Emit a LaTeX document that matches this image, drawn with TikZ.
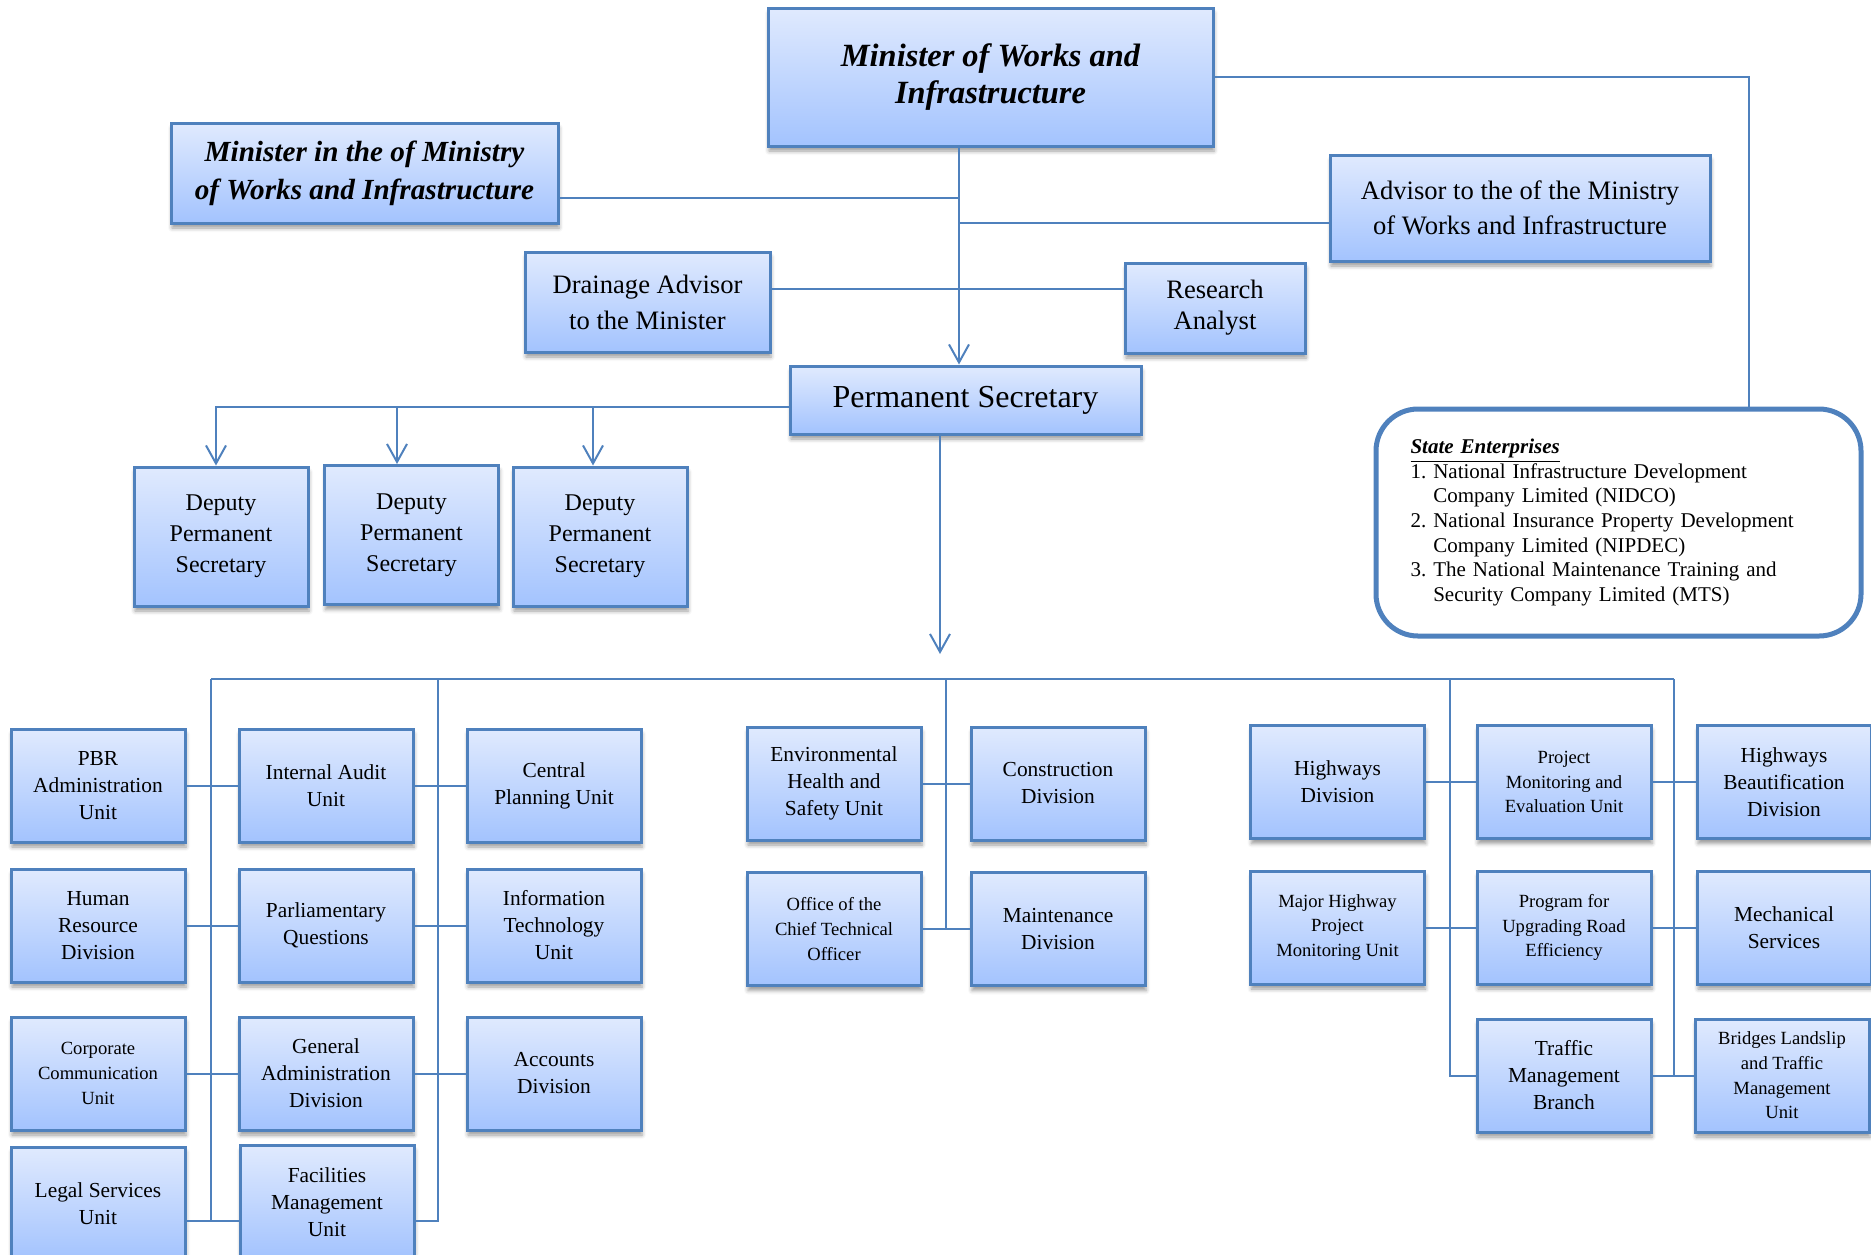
\documentclass[tikz,border=0pt]{standalone}
\usepackage{fontspec}
\setmainfont{Liberation Serif}
\usetikzlibrary{arrows.meta,shadows.blur}
\definecolor{boxline}{HTML}{4F81BD}
\definecolor{boxtop}{HTML}{E0EAFE}
\definecolor{boxbot}{HTML}{A3C3FE}
\begin{document}
\begin{tikzpicture}[x=0.5pt,y=-0.5pt,>={Straight Barb[length=9pt,width=10pt]}]
  \tikzstyle{box}=[draw=boxline,line width=1.5pt,top color=boxtop,bottom color=boxbot,align=center,inner sep=2pt,
    blur shadow={shadow xshift=0.5pt,shadow yshift=-2.5pt,shadow blur radius=2pt,shadow opacity=40}]
  \tikzstyle{unit}=[box,minimum width=87pt,minimum height=56.5pt,font=\fontsize{10.7}{13.5}\selectfont]
  \tikzstyle{smallunit}=[unit,font=\fontsize{9.3}{12.3}\selectfont]
  \tikzstyle{deputy}=[box,minimum width=87pt,minimum height=69.5pt,font=\fontsize{12}{15.5}\selectfont]
  \tikzstyle{link}=[draw=boxline,line width=1pt]
  \useasboundingbox (0,0) rectangle (1871,1254);
  \clip (0,0) rectangle (1871,1254);

  \node[box,minimum width=222.5pt,minimum height=69pt,font=\bfseries\itshape\fontsize{16.2}{18.5}\selectfont] (mwi) at (990.5,77) {Minister of Works and\\Infrastructure};
  \node[box,minimum width=193.5pt,minimum height=50pt,font=\bfseries\itshape\fontsize{14.6}{19}\selectfont] (mim) at (364.5,173) {Minister in the of Ministry\\of Works and Infrastructure};
  \node[box,minimum width=190pt,minimum height=53pt,font=\fontsize{13.3}{17.3}\selectfont] (adv) at (1520,208) {Advisor to the of the Ministry\\of Works and Infrastructure};
  \node[box,minimum width=122.5pt,minimum height=50pt,font=\fontsize{13.3}{18}\selectfont] (drain) at (647.5,302) {Drainage Advisor\\to the Minister};
  \node[box,minimum width=90pt,minimum height=45pt,font=\fontsize{13.3}{15.5}\selectfont] (res) at (1215,308) {Research\\Analyst};
  \node[box,minimum width=175.5pt,minimum height=34pt,font=\fontsize{16}{18}\selectfont] (ps) at (965.5,400) {Permanent Secretary};
  \node[deputy] (dps1) at (221,536.5) {Deputy\\Permanent\\Secretary};
  \node[deputy] (dps2) at (411.5,535) {Deputy\\Permanent\\Secretary};
  \node[deputy] (dps3) at (600,536.5) {Deputy\\Permanent\\Secretary};
  \node[draw=boxline,line width=2.5pt,rounded corners=21pt,fill=white,minimum width=242.5pt,minimum height=113.5pt,
    text width=208pt,align=left,inner xsep=17pt,font=\fontsize{10.5}{12.3}\selectfont] (state) at (1618.5,522.5)
    {\underline{\textbf{\textit{State Enterprises}}}\\
     1.~National Infrastructure Development\\
     \hphantom{1.~}Company Limited (NIDCO)\\
     2.~National Insurance Property Development\\
     \hphantom{1.~}Company Limited (NIPDEC)\\
     3.~The National Maintenance Training and\\
     \hphantom{1.~}Security Company Limited (MTS)};

  \node[unit] (pbr) at (98,785.5) {PBR\\Administration\\Unit};
  \node[unit] (iau) at (326,785.5) {Internal Audit\\Unit};
  \node[unit] (cpu) at (554,785.5) {Central\\Planning Unit};
  \node[unit] (hrd) at (98,925.5) {Human\\Resource\\Division};
  \node[unit] (pq) at (326,925.5) {Parliamentary\\Questions};
  \node[unit] (itu) at (554,925.5) {Information\\Technology\\Unit};
  \node[smallunit] (ccu) at (98,1073.5) {Corporate\\Communication\\Unit};
  \node[unit] (gad) at (326,1073.5) {General\\Administration\\Division};
  \node[unit] (acc) at (554,1073.5) {Accounts\\Division};
  \node[unit] (legal) at (98,1203.5) {Legal Services\\Unit};
  \node[unit] (fac) at (327,1202) {Facilities\\Management\\Unit};

  \node[unit] (env) at (834,783.5) {Environmental\\Health and\\Safety Unit};
  \node[unit] (con) at (1058,783.5) {Construction\\Division};
  \node[smallunit] (oct) at (834,929) {Office of the\\Chief Technical\\Officer};
  \node[unit] (mnt) at (1058,929) {Maintenance\\Division};

  \node[unit] (hwy) at (1337.5,782) {Highways\\Division};
  \node[smallunit] (pme) at (1564,782) {Project\\Monitoring and\\Evaluation Unit};
  \node[unit] (hbd) at (1784,782) {Highways\\Beautification\\Division};
  \node[smallunit] (mhp) at (1337.5,927.5) {Major Highway\\Project\\Monitoring Unit};
  \node[smallunit] (pur) at (1564,927.5) {Program for\\Upgrading Road\\Efficiency};
  \node[unit] (mech) at (1784,927.5) {Mechanical\\Services};
  \node[unit] (tmb) at (1564,1075.5) {Traffic\\Management\\Branch};
  \node[smallunit] (blt) at (1782,1075.5) {Bridges Landslip\\and Traffic\\Management\\Unit};

  \coordinate (j0) at (959,366);
  \coordinate (j1) at (959,198);
  \coordinate (j2) at (959,223);
  \coordinate (j3) at (959,289);
  \draw[link,->] (j0 |- mwi.south) -- (j0 |- ps.north);
  \draw[link] (mim.east |- j1) -- (j1);
  \draw[link] (j2) -- (adv.west |- j2);
  \draw[link] (drain.east |- j3) -- (res.west |- j3);
  \draw[link] (mwi.east) -| ([xshift=65.25pt]state.north);

  \coordinate (d1) at (216,407);
  \coordinate (d2) at (397,407);
  \coordinate (d3) at (593,407);
  \draw[link,->] (ps.west |- d1) -| (d1 |- dps1.north);
  \draw[link,->] (d2) -- (d2 |- dps2.north);
  \draw[link,->] (d3) -- (d3 |- dps3.north);

  \coordinate (psarr) at (940,654);
  \draw[link,->] (psarr |- ps.south) -- (psarr);

  \coordinate (bl) at (211,679);
  \coordinate (bm1) at (438,679);
  \coordinate (bm) at (946,679);
  \coordinate (br1) at (1450,679);
  \coordinate (br) at (1674,679);
  \coordinate (r4) at (0,1221);
  \draw[link] (bl) -- (br);

  \draw[link] (bl) -- (bl |- r4);
  \draw[link] (bm1) -- (bm1 |- r4) -- (fac.east |- r4);
  \draw[link] (pbr) -- (iau);
  \draw[link] (iau) -- (cpu);
  \draw[link] (hrd) -- (pq);
  \draw[link] (pq) -- (itu);
  \draw[link] (ccu) -- (gad);
  \draw[link] (gad) -- (acc);
  \draw[link] (legal.east |- r4) -- (fac.west |- r4);

  \draw[link] (bm) -- (bm |- oct);
  \draw[link] (env) -- (con);
  \draw[link] (oct) -- (mnt);

  \draw[link] (br1) |- (tmb);
  \draw[link] (br) -- (br |- tmb);
  \draw[link] (hwy) -- (pme);
  \draw[link] (pme) -- (hbd);
  \draw[link] (mhp) -- (pur);
  \draw[link] (pur) -- (mech);
  \draw[link] (tmb) -- (blt);
\end{tikzpicture}
\end{document}
